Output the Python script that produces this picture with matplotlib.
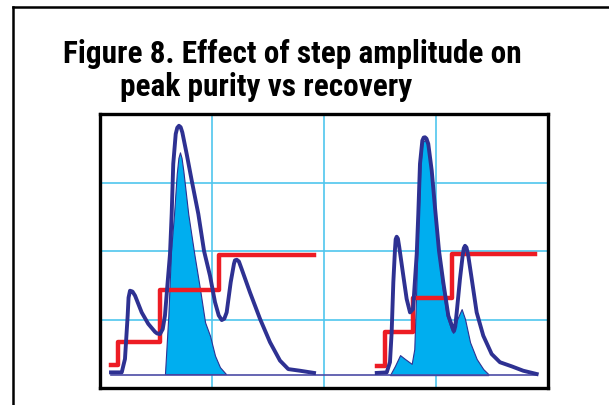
import matplotlib.pyplot as plt
from matplotlib.lines import Line2D

# elution time (min) / signal (%)
left_t = [0.98, 1.94, 2.23, 2.47, 2.55, 2.68, 2.90, 3.13, 3.72, 4.31, 4.91, 5.10, 5.36, 5.60,
          5.80, 6.04, 6.25, 6.40, 6.54, 6.76, 6.90, 7.05, 7.20, 7.35, 7.74, 8.19, 8.78, 9.29,
          9.82, 10.27, 10.60, 10.87, 11.10, 11.31, 11.67, 11.96, 12.05, 12.21, 12.40, 12.65,
          13.39, 14.29, 15.18, 16.07, 16.81, 17.86, 19.11]
left_sig = [5.7, 5.7, 10.6, 26.4, 33.0, 35.5, 35.2, 33.7, 27.6, 23.4, 20.5, 19.9, 19.7, 21.5,
            26.4, 38.6, 48.9, 63.5, 81.8, 92.7, 95.0, 95.7, 95.2, 93.3, 85.4, 75.7, 63.5, 50.0,
            41.0, 31.3, 26.5, 24.8, 25.3, 27.6, 38.6, 45.3, 46.6, 46.8, 46.2, 43.4,
            34.9, 25.2, 16.7, 10.0, 6.9, 6.3, 5.5]

left_cut_t = [5.80, 6.10, 6.34, 6.61, 6.85, 7.00, 7.14, 7.28, 7.44, 7.88, 8.42, 8.93, 9.38,
              9.82, 10.27, 10.71, 11.25]
left_cut_sig = [5.1, 26.4, 50.0, 63.5, 78.1, 84.0, 86.0, 84.0, 79.3, 63.5, 48.9, 36.1, 24.0,
                19.1, 11.8, 7.6, 5.1]

left_step_t = [0.98, 1.63, 5.36, 10.65, 19.11]
left_step = [8.4, 16.9, 35.9, 48.7, 48.7]

right_t = [24.71, 25.60, 25.89, 26.04, 26.19, 26.34, 26.40, 26.49, 26.60, 26.72, 27.08, 27.38,
           27.68, 27.95, 28.28, 28.42, 28.57, 28.78, 28.90, 29.02, 29.15, 29.31, 29.62, 29.91,
           30.27, 30.65, 31.10, 31.50, 31.61, 31.72, 31.85, 32.14, 32.38, 32.48, 32.59, 32.72,
           32.88, 33.19, 33.63, 34.22, 34.97, 35.71, 36.76, 37.79, 38.99]
right_sig = [5.5, 5.7, 9.4, 20.3, 38.6, 50.7, 54.3, 55.2, 54.5, 51.4, 41.0, 32.5,
             27.6, 28.8, 48.9, 63.5, 81.8, 90.3, 91.4, 91.5, 91.0, 89.1, 79.3, 65.9,
             50.0, 38.6, 26.4, 21.8, 20.8, 22.5, 27.6, 39.8, 48.3, 51.0, 51.9, 51.3,
             48.3, 39.8, 27.6, 19.1, 12.4, 9.4, 7.9, 6.3, 5.1]

right_cut_t = [25.89, 26.34, 26.79, 27.23, 27.83, 28.06, 28.21, 28.33, 28.46, 28.62, 28.79,
               29.02, 29.29, 29.60, 29.87, 30.21, 30.51, 30.96, 31.40, 31.54, 31.90, 32.29,
               32.59, 33.04, 33.63, 34.22, 34.67]
right_cut_sig = [4.7, 8.1, 12.0, 10.6, 8.8, 14.2, 32.5, 50.7, 63.5, 81.8, 89.8,
                 90.5, 88.3, 78.8, 65.9, 50.0, 38.6, 26.4, 20.9, 20.1, 25.2, 28.8,
                 25.2, 16.7, 10.6, 6.9, 5.1]

right_step_t = [24.76, 25.45, 27.97, 31.40, 38.84]
right_step = [7.9, 20.5, 32.7, 49.0, 49.0]

baseline_t = [1.0, 39.0]
baseline = [4.74, 4.74]

navy = '#2E3192'
red = '#ED1C24'
cyan = '#00AEEF'
grid_c = '#4FC6EE'

fig = plt.figure(figsize=(6.09, 4.06), dpi=100)

# outer frame (only top/left edges fall inside the picture)
fig.add_artist(Line2D([13 / 609, 13 / 609], [0, 1 - 8 / 406], color='black', lw=1.8))
fig.add_artist(Line2D([13 / 609, 1], [1 - 8 / 406, 1 - 8 / 406], color='black', lw=1.8))

title_font = ['Roboto Condensed', 'Liberation Sans Narrow', 'Roboto', 'DejaVu Sans']
fig.text(63 / 609, 1 - 63 / 406, 'Figure 8. Effect of step amplitude on',
         family=title_font, fontweight='bold', fontsize=22.5, va='baseline', ha='left')
fig.text(120 / 609, 1 - 96 / 406, 'peak purity vs recovery',
         family=title_font, fontweight='bold', fontsize=22.5, va='baseline', ha='left')

ax = fig.add_axes([100 / 609, 1 - 389 / 406, 448 / 609, 274 / 406])
ax.set_xlim(0, 40)
ax.set_ylim(0, 100)
ax.set_xticks([0, 10, 20, 30, 40])
ax.set_yticks([0, 25, 50, 75, 100])
ax.grid(True, color=grid_c, lw=1.2)
ax.set_axisbelow(True)
ax.tick_params(length=0, labelbottom=False, labelleft=False)
for s in ax.spines.values():
    s.set_linewidth(2.4)
    s.set_color('black')

ax.fill_between(left_cut_t, 5.1, left_cut_sig, facecolor=cyan, edgecolor=navy, lw=0.8, zorder=2)
ax.fill_between(right_cut_t, 4.7, right_cut_sig, facecolor=cyan, edgecolor=navy, lw=0.8, zorder=2)
ax.plot(baseline_t, baseline, color='#4B4BA5', lw=1.2, zorder=3)

ax.step(left_step_t, left_step, where='post', color=red, lw=3.2, zorder=4)
ax.step(right_step_t, right_step, where='post', color=red, lw=3.2, zorder=4)

ax.plot(left_t, left_sig, color=navy, lw=2.8, solid_joinstyle='round', zorder=5)
ax.plot(right_t, right_sig, color=navy, lw=2.8, solid_joinstyle='round', zorder=5)

fig.savefig('out.png', dpi=100)
